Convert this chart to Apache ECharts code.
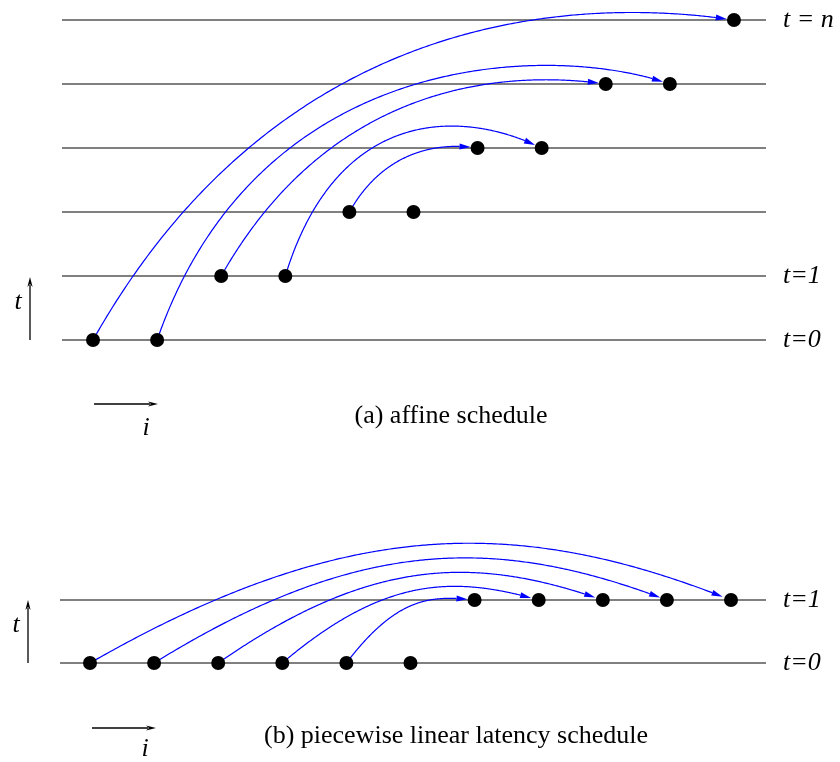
<!DOCTYPE html>
<html>
<head>
<meta charset="utf-8">
<script src="https://cdn.jsdelivr.net/npm/echarts@6/dist/echarts.min.js"></script>
<style>
html,body{margin:0;padding:0;background:#fff;}
#chart{width:840px;height:762px;}
</style>
</head>
<body>
<div id="chart"></div>
<script>
// ---- data ----
const topI = [0, 1, 2, 3, 4, 5, 6, 7, 8, 9, 10];
const topT = [0, 0, 1, 1, 2, 2, 3, 3, 4, 4, 5];
const topArcFrom = [0, 1, 2, 3, 4];
const topArcTo = [10, 9, 8, 7, 6];
const topLevelLabels = ['t=0', 't=1', '', '', '', 't = n'];

const botI = [0, 1, 2, 3, 4, 5, 6, 7, 8, 9, 10];
const botT = [0, 0, 0, 0, 0, 0, 1, 1, 1, 1, 1];
const botArcFrom = [0, 1, 2, 3, 4];
const botArcTo = [10, 9, 8, 7, 6];
const botLevelLabels = ['t=0', 't=1'];

const captionA = '(a) affine schedule';
const captionB = '(b) piecewise linear latency schedule';
const timeLabel = 't';
const indexLabel = 'i';

// ---- arc curve styling (shape of each drawn curve, not data) ----
const topArcLift = [21, 40, 12, 40, 4.5];
const topArcHandleStart = [0.3, 0.2, 0.3, 0.2, 0.3];
const topArcHandleEnd = [0.78, 0.78, 0.78, 0.68, 0.78];
const botArcLift = [84, 64, 44, 24, 4.5];
const botArcHandleStart = [0.4, 0.4, 0.4, 0.4, 0.4];
const botArcHandleEnd = [0.67, 0.67, 0.67, 0.67, 0.67];

// ---- helpers ----
const SERIF = '"Liberation Serif", "Times New Roman", serif';
const BLUE = '#0000ff';

function nodes(I, T) { return I.map((v, k) => [v, T[k]]); }
function arcs(I, T, from, to) {
  return from.map((f, k) => [I[f], T[f], I[to[k]], T[to[k]]]);
}
function dist(a, b) { return Math.hypot(a[0] - b[0], a[1] - b[1]); }

function arcRenderer(lifts, hs, he) {
  return function (params, api) {
    const idx = params.dataIndex;
    const p0 = api.coord([api.value(0), api.value(1)]);
    const p3 = api.coord([api.value(2), api.value(3)]);
    const dx = p3[0] - p0[0];
    const Y = p3[1] - lifts[idx];
    const c1 = [p0[0] + hs[idx] * dx, Y], c2 = [p0[0] + he[idx] * dx, Y];
    const N = 300, pts = [];
    for (let k = 0; k <= N; k++) {
      const t = k / N, u = 1 - t;
      const b0 = u * u * u, b1 = 3 * u * u * t, b2 = 3 * u * t * t, b3 = t * t * t;
      pts.push([b0 * p0[0] + b1 * c1[0] + b2 * c2[0] + b3 * p3[0],
                b0 * p0[1] + b1 * c1[1] + b2 * c2[1] + b3 * p3[1]]);
    }
    const R = 7, AL = 11, AW = 3;
    let end = pts.length - 1;
    while (end > 0 && dist(pts[end], p3) < R) end--;
    const tip = pts[end];
    let back = end;
    while (back > 0 && dist(pts[back], tip) < AL) back--;
    const bp = pts[back];
    const len = dist(tip, bp) || 1;
    const ux = (tip[0] - bp[0]) / len, uy = (tip[1] - bp[1]) / len;
    const base = [tip[0] - ux * AL, tip[1] - uy * AL];
    const left = [base[0] - uy * AW, base[1] + ux * AW];
    const right = [base[0] + uy * AW, base[1] - ux * AW];
    return {
      type: 'group',
      children: [
        { type: 'polyline', shape: { points: pts.slice(0, back + 1).concat([base]) },
          style: { stroke: BLUE, lineWidth: 1.2, fill: null } },
        { type: 'polygon', shape: { points: [tip, left, right] },
          style: { fill: BLUE, stroke: null } }
      ]
    };
  };
}

function levelAxis(gridIndex, max, labels) {
  return {
    type: 'value', gridIndex: gridIndex, min: 0, max: max, interval: 1,
    position: 'right',
    axisLine: { show: false }, axisTick: { show: false },
    splitLine: { show: true, lineStyle: { color: '#808080', width: 2 } },
    axisLabel: {
      show: true, margin: 17, color: '#000', fontFamily: SERIF,
      fontStyle: 'italic', fontSize: 26,
      formatter: v => labels[Math.round(v)] || ''
    }
  };
}

function arrowGraphic(x1, y1, x2, y2) {
  const L = Math.hypot(x2 - x1, y2 - y1);
  const ux = (x2 - x1) / L, uy = (y2 - y1) / L;
  const AL = 10, AW = 2.6;
  const bx = x2 - ux * AL, by = y2 - uy * AL;
  return [
    { type: 'line', shape: { x1: x1, y1: y1, x2: bx + ux * 2, y2: by + uy * 2 },
      style: { stroke: '#000', lineWidth: 1.3 } },
    { type: 'polygon', shape: { points: [[x2, y2], [bx - uy * AW, by + ux * AW], [bx + ux * 3, by + uy * 3], [bx + uy * AW, by - ux * AW]] },
      style: { fill: '#000' } }
  ];
}

function txt(s, x, y, italic, align) {
  return {
    type: 'text', x: x, y: y,
    style: {
      text: s, fill: '#000',
      font: (italic ? 'italic ' : '') + '26px ' + SERIF,
      align: align || 'center', verticalAlign: 'middle'
    }
  };
}

const chart = echarts.init(document.getElementById('chart'), null, { renderer: 'canvas' });

const graphics = []
  .concat(arrowGraphic(30, 340, 30, 277))
  .concat(arrowGraphic(94, 404, 158, 404))
  .concat(arrowGraphic(28, 663, 28, 600))
  .concat(arrowGraphic(92, 728, 156, 728))
  .concat([
    txt(timeLabel, 18, 302, true),
    txt(indexLabel, 146, 428, true),
    txt(timeLabel, 16, 625, true),
    txt(indexLabel, 145, 749, true),
    txt(captionA, 451, 416, false),
    txt(captionB, 456, 736, false)
  ]);

chart.setOption({
  animation: false,
  backgroundColor: '#fff',
  grid: [
    { left: 62, top: 20, width: 704, height: 320 },
    { left: 60, top: 600, width: 706, height: 63 }
  ],
  xAxis: [
    { type: 'value', gridIndex: 0, min: -0.484, max: 10.5, show: false },
    { type: 'value', gridIndex: 1, min: -0.468, max: 10.546, show: false }
  ],
  yAxis: [
    levelAxis(0, 5, topLevelLabels),
    levelAxis(1, 1, botLevelLabels)
  ],
  graphic: graphics,
  series: [
    { type: 'custom', coordinateSystem: 'cartesian2d', xAxisIndex: 0, yAxisIndex: 0,
      clip: false, silent: true, z: 2, encode: { x: [0, 2], y: [1, 3] },
      renderItem: arcRenderer(topArcLift, topArcHandleStart, topArcHandleEnd),
      data: arcs(topI, topT, topArcFrom, topArcTo) },
    { type: 'custom', coordinateSystem: 'cartesian2d', xAxisIndex: 1, yAxisIndex: 1,
      clip: false, silent: true, z: 2, encode: { x: [0, 2], y: [1, 3] },
      renderItem: arcRenderer(botArcLift, botArcHandleStart, botArcHandleEnd),
      data: arcs(botI, botT, botArcFrom, botArcTo) },
    { type: 'scatter', xAxisIndex: 0, yAxisIndex: 0, symbol: 'circle', symbolSize: 14,
      itemStyle: { color: '#000', opacity: 1 }, z: 3, silent: true, data: nodes(topI, topT) },
    { type: 'scatter', xAxisIndex: 1, yAxisIndex: 1, symbol: 'circle', symbolSize: 14,
      itemStyle: { color: '#000', opacity: 1 }, z: 3, silent: true, data: nodes(botI, botT) }
  ]
});
</script>
</body>
</html>
